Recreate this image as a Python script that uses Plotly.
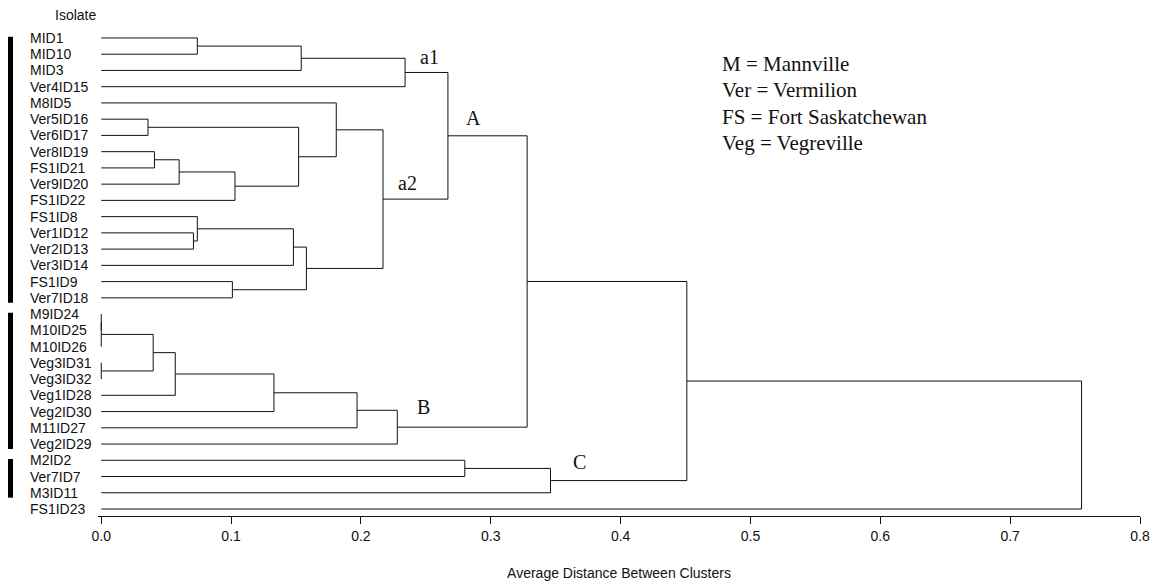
import plotly.graph_objects as go

# ---- data ----
leaves = ["MID1", "MID10", "MID3", "Ver4ID15", "M8ID5", "Ver5ID16", "Ver6ID17",
          "Ver8ID19", "FS1ID21", "Ver9ID20", "FS1ID22", "FS1ID8", "Ver1ID12",
          "Ver2ID13", "Ver3ID14", "FS1ID9", "Ver7ID18", "M9ID24", "M10ID25",
          "M10ID26", "Veg3ID31", "Veg3ID32", "Veg1ID28", "Veg2ID30", "M11ID27",
          "Veg2ID29", "M2ID2", "Ver7ID7", "M3ID11", "FS1ID23"]

# merges: (child_a, child_b, height); node ids: leaves 0..29, merges 30+
merge_a = [0, 30, 31, 5, 7, 34, 35, 33, 4, 12, 11, 40, 15, 41, 38, 32,
           17, 46, 20, 47, 49, 50, 51, 52, 45, 26, 55, 54, 57]
merge_b = [1, 2, 3, 6, 8, 9, 10, 36, 37, 13, 39, 14, 16, 42, 43, 44,
           18, 19, 21, 48, 22, 23, 24, 25, 53, 27, 28, 56, 29]
merge_h = [0.074, 0.154, 0.234, 0.036, 0.041, 0.060, 0.103, 0.152, 0.181,
           0.071, 0.074, 0.148, 0.101, 0.158, 0.217, 0.267,
           0.0, 0.0, 0.0, 0.040, 0.057, 0.133, 0.197, 0.228, 0.328,
           0.280, 0.346, 0.451, 0.755]

cluster_labels = ["a1", "A", "a2", "B", "C"]
cluster_label_x = [0.253, 0.287, 0.236, 0.248, 0.368]
cluster_label_y = [1.2, 4.9, 8.9, 22.7, 26.1]

group_start = [0, 17, 26]
group_end = [16, 25, 28]

legend_lines = ["M = Mannville", "Ver = Vermilion", "FS = Fort Saskatchewan", "Veg = Vegreville"]

x_ticks = [0.0, 0.1, 0.2, 0.3, 0.4, 0.5, 0.6, 0.7, 0.8]

# ---- build dendrogram segments ----
n = len(leaves)
pos = {i: float(i) for i in range(n)}
hgt = {i: 0.0 for i in range(n)}
xs, ys = [], []
for k, (a, b, h) in enumerate(zip(merge_a, merge_b, merge_h)):
    node = n + k
    ya, yb = pos[a], pos[b]
    xs += [hgt[a], h, h, hgt[b], None]
    ys += [ya, ya, yb, yb, None]
    pos[node] = (ya + yb) / 2
    hgt[node] = h

W, H = 1154, 585
L, R, T, B = 98, 14, 30, 69
pw, ph = W - L - R, H - T - B
Y_TOP, Y_BOT = -0.49, 29.43


def px(xp):  # page x pixel -> paper
    return (xp - L) / pw


def py(yp):  # page y pixel -> paper
    return (H - yp - B) / ph


def ydata_to_paper(v):
    return (Y_BOT - v) / (Y_BOT - Y_TOP)


fig = go.Figure()
fig.add_trace(go.Scatter(x=xs, y=ys, mode="lines",
                         line=dict(color="#111111", width=1),
                         hoverinfo="skip", showlegend=False))

sans = "Liberation Sans, Arial"
serif = "Liberation Serif, Times New Roman"
annotations = []
for i, name in enumerate(leaves):
    annotations.append(dict(x=px(28), y=ydata_to_paper(i), xref="paper", yref="paper",
                            text=name, showarrow=False, xanchor="left", yanchor="middle",
                            font=dict(family=sans, size=14, color="#111")))
annotations.append(dict(x=px(53), y=py(15), xref="paper", yref="paper", text="Isolate",
                        showarrow=False, xanchor="left", yanchor="middle",
                        font=dict(family=sans, size=14, color="#111")))
for t, x, y in zip(cluster_labels, cluster_label_x, cluster_label_y):
    annotations.append(dict(x=x, y=y, xref="x", yref="y", text=t, showarrow=False,
                            xanchor="center", yanchor="middle",
                            font=dict(family=serif, size=20, color="#111")))
for j, t in enumerate(legend_lines):
    annotations.append(dict(x=px(720), y=py(64 + 26.3 * j), xref="paper", yref="paper",
                            text=t, showarrow=False, xanchor="left", yanchor="middle",
                            font=dict(family=serif, size=21, color="#111")))

shapes = []
for s, e in zip(group_start, group_end):
    shapes.append(dict(type="rect", xref="paper", yref="paper",
                       x0=px(8), x1=px(13),
                       y0=ydata_to_paper(e + 0.3), y1=ydata_to_paper(s - 0.08),
                       fillcolor="black", line=dict(width=0)))

fig.update_layout(
    width=W, height=H,
    margin=dict(l=L, r=R, t=T, b=B, autoexpand=False),
    paper_bgcolor="white", plot_bgcolor="white",
    annotations=annotations, shapes=shapes,
    xaxis=dict(range=[-0.0025, 0.8], tickvals=x_ticks,
               ticktext=[f"{v:.1f}" for v in x_ticks],
               showgrid=False, zeroline=False, showline=True, linecolor="#111",
               linewidth=1, ticks="outside", ticklen=7, tickcolor="#111",
               tickfont=dict(family=sans, size=14, color="#111"),
               title=dict(text="Average Distance Between Clusters",
                          font=dict(family=sans, size=14, color="#111"),
                          standoff=25)),
    yaxis=dict(range=[Y_BOT, Y_TOP], showticklabels=False, showgrid=False,
               zeroline=False, showline=False, ticks=""),
)

fig.write_html("out.html", config={"displayModeBar": False},
               post_script="document.body.style.margin='0';document.body.style.overflow='hidden';")
